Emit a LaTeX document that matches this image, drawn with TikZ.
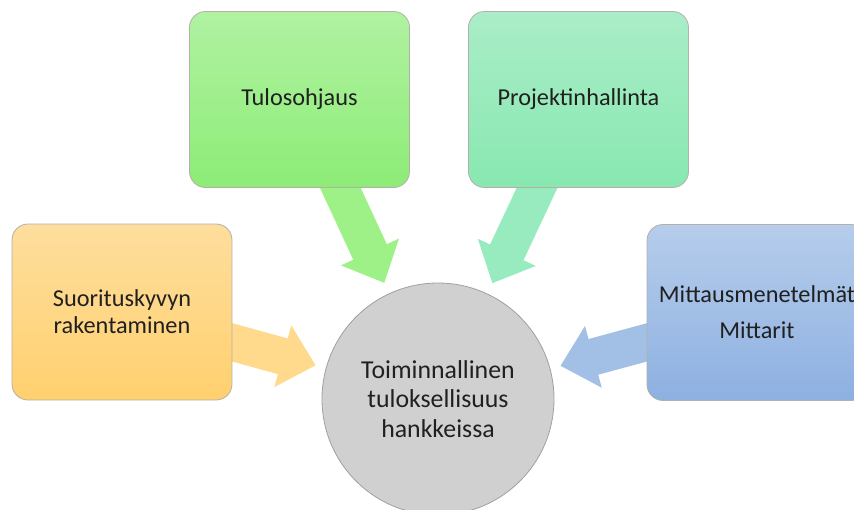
\documentclass[tikz,border=0pt]{standalone}
\usepackage{fontspec}
\setmainfont{Carlito}
\usetikzlibrary{calc,backgrounds}

\definecolor{txt}{HTML}{202020}
\definecolor{edge}{HTML}{B4B0A8}
\definecolor{orTop}{HTML}{FEDE9E}
\definecolor{orBot}{HTML}{FFD06E}
\definecolor{orArr}{HTML}{FFD98C}
\definecolor{grTop}{HTML}{B0F2A2}
\definecolor{grBot}{HTML}{8DEC76}
\definecolor{grArr}{HTML}{9EF186}
\definecolor{tqTop}{HTML}{AAEDC8}
\definecolor{tqBot}{HTML}{88E8B0}
\definecolor{tqArr}{HTML}{98EBBE}
\definecolor{blTop}{HTML}{B6CDEB}
\definecolor{blBot}{HTML}{8DB0E1}
\definecolor{blArr}{HTML}{A2C0E6}
\definecolor{hubFill}{HTML}{D0D0D0}
\definecolor{hubEdge}{HTML}{A0A0A0}

% block arrow from #1 to the tip #2, filled with #3
\newcommand\radialarrow[3]{%
  \coordinate (hb) at ($(#2)!34pt!(#1)$);
  \fill[#3] ($(#1)!18.5pt!-90:(#2)$) -- ($(hb)!18.5pt!-90:(#2)$)
    -- ($(hb)!32pt!-90:(#2)$) -- (#2) -- ($(hb)!32pt!90:(#2)$)
    -- ($(hb)!18.5pt!90:(#2)$) -- ($(#1)!18.5pt!90:(#2)$) -- cycle;
}

\tikzset{
  card/.style={rectangle, rounded corners=16pt, draw=edge, line width=0.8pt,
    minimum width=220pt, minimum height=176pt, inner sep=0pt,
    align=center, text=txt, font=\fontsize{24.3pt}{27pt}\selectfont},
  hubnode/.style={circle, fill=hubFill, draw=hubEdge, line width=0.8pt,
    minimum size=232pt, inner sep=0pt, align=center, text=txt,
    font=\fontsize{25.8pt}{29.5pt}\selectfont}
}

\begin{document}
\begin{tikzpicture}[x=1pt, y=-1pt]
  \useasboundingbox (0,0) rectangle (854,509);
  \clip (0,0) rectangle (854,509);

  \node[card, top color=orTop, bottom color=orBot] (suor) at (122,312)
    {Suorituskyvyn\\rakentaminen};
  \node[card, top color=grTop, bottom color=grBot] (tulos) at (299.5,99.5)
    {Tulosohjaus};
  \node[card, top color=tqTop, bottom color=tqBot] (proj) at (578.5,99.5)
    {Projektinhallinta};
  \node[card, top color=blTop, bottom color=blBot] (mitt) at (757,312.5)
    {Mittausmenetelmät\\[9pt]Mittarit};

  \node[hubnode] (hub) at (438,399)
    {Toiminnallinen\\tuloksellisuus\\hankkeissa};

  % arrow tips stop just short of the circle
  \coordinate (tipA) at ($(hub)!127pt!(suor.center)$);
  \coordinate (tipB) at ($(hub)!128pt!(tulos.center)$);
  \coordinate (tipC) at ($(hub)!128pt!(proj.center)$);
  \coordinate (tipD) at ($(hub)!127pt!(mitt.center)$);

  \begin{scope}[on background layer]
    \radialarrow{suor.center}{tipA}{orArr}
    \radialarrow{tulos.center}{tipB}{grArr}
    \radialarrow{proj.center}{tipC}{tqArr}
    \radialarrow{mitt.center}{tipD}{blArr}
  \end{scope}
\end{tikzpicture}
\end{document}
